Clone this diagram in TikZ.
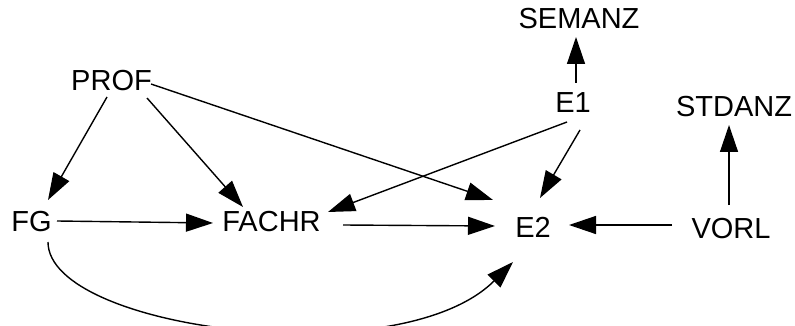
\documentclass[tikz,border=0pt]{standalone}
\usepackage{fontspec}
\setmainfont{Liberation Sans}
\usetikzlibrary{arrows.meta,calc}
\tikzset{
  lbl/.style={inner sep=0pt, text height=20.8pt, text depth=0pt, font=\fontsize{29pt}{34pt}\selectfont},
  arr/.style={line width=1.4pt, -{Triangle[length=27pt,width=18pt]}}
}
\begin{document}
\begin{tikzpicture}[x=1pt,y=-1pt]
\useasboundingbox[fill=white] (0,0) rectangle (795,326);
\node[lbl] (semanz) at (579,18) {SEMANZ};
\node[lbl] (e1) at (573,102) {E1};
\node[lbl] (stdanz) at (734,106) {STDANZ};
\node[lbl] (prof) at (111.5,80) {PROF};
\node[lbl] (fg) at (31.5,221) {FG};
\node[lbl] (fachr) at (271.5,221) {FACHR};
\node[lbl] (e2) at (533,227.5) {E2};
\node[lbl] (vorl) at (731,228) {VORL};

\draw[arr] ($(prof)+(-4.5,17)$) -- ($(fg)+(16.5,-21)$);
\draw[arr] ($(prof)+(35.5,18)$) -- ($(fachr)+(-28.5,-14)$);
\draw[arr] ($(prof)+(39.5,4)$) -- ($(e2)+(-40,-27.5)$);
\draw[arr] ($(fg)+(25.5,0)$) -- ($(fachr)+(-58.5,2)$);
\draw[arr] ($(fachr)+(71.5,4)$) -- ($(e2)+(-38,-1.5)$);
\draw[arr] ($(e1)+(-6,20)$) -- ($(fachr)+(56.5,-9)$);
\draw[arr] ($(e1)+(7,28)$) -- ($(e2)+(7,-29.5)$);
\draw[arr] ($(e1)+(3,-19)$) -- ($(semanz)+(-3,19)$);
\draw[arr] ($(vorl)+(-59,-3)$) -- ($(e2)+(36,-2.5)$);
\draw[arr] ($(vorl)+(-2,-23)$) -- ($(stdanz)+(-5,19)$);
\draw[arr] ($(fg)+(16.5,21)$) .. controls (48,330) and (400,375) .. ($(e2)+(-20,34.5)$);
\end{tikzpicture}
\end{document}
